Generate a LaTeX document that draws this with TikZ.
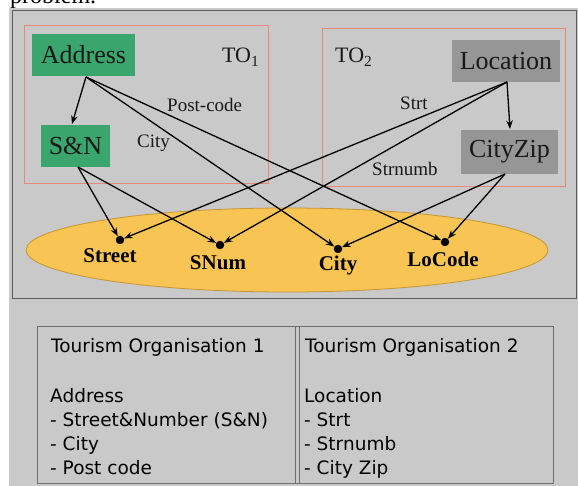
\documentclass[tikz,border=0pt]{standalone}
\usepackage{fontspec}
\setmainfont{Liberation Serif}
\newfontfamily\tablefont{DejaVu Sans}
\usetikzlibrary{arrows.meta,shapes.geometric}

\definecolor{pagegray}{RGB}{201,201,201}
\definecolor{panelline}{RGB}{90,90,90}
\definecolor{toline}{RGB}{229,138,120}
\definecolor{greenbox}{RGB}{58,165,108}
\definecolor{graybox}{RGB}{150,150,150}
\definecolor{ellfill}{RGB}{248,196,84}
\definecolor{ellline}{RGB}{200,150,50}
\definecolor{tableline}{RGB}{110,110,110}
\definecolor{ink}{RGB}{25,25,25}

\tikzset{
  conceptbox/.style={draw=none, inner sep=0pt, text=ink,
    font=\fontsize{26}{30}\selectfont},
  tobox/.style={draw=toline, line width=0.9pt},
  edgelabel/.style={anchor=base west, inner sep=0pt, text=ink,
    font=\fontsize{19}{22}\selectfont},
  tolabel/.style={anchor=base west, inner sep=0pt, text=ink,
    font=\fontsize{22}{26}\selectfont},
  attrdot/.style={circle, fill=black, inner sep=0pt, minimum size=8.5pt},
  attrlabel/.style={anchor=base, inner sep=0pt, text=black,
    font=\fontsize{21}{24}\selectfont\bfseries},
  link/.style={draw=black, line width=1.3pt,
    -{Stealth[length=8.5pt,width=6.5pt]}},
  tabletext/.style={anchor=base west, inner sep=0pt, align=left,
    text=black, font=\tablefont\fontsize{18.5}{24}\selectfont},
}

\begin{document}
\begin{tikzpicture}[x=1pt,y=-1pt]
\useasboundingbox (0,0) rectangle (578,486);

% page behind the figure
\fill[white] (0,0) rectangle (578,486);
\node[anchor=base west, inner sep=0pt, font=\fontsize{24}{28}\selectfont]
  (caption) at (10,4) {problem.};
\fill[pagegray] (9,8) rectangle (578,486);

% upper panel
\draw[panelline, line width=1pt] (12,10.5) rectangle (576,298);

% the two tourism organisations
\draw[tobox] (24,25) rectangle (268,183);
\draw[tobox] (322,28) rectangle (565,186);
\node[tolabel] (to1) at (222,63) {TO\textsubscript{1}};
\node[tolabel] (to2) at (335,63) {TO\textsubscript{2}};

% concepts
\node[conceptbox, fill=greenbox, minimum width=103pt, minimum height=42pt]
  (addr) at (83.5,55) {Address};
\node[conceptbox, fill=greenbox, minimum width=69pt, minimum height=42pt]
  (sn) at (75.5,146) {S\&N};
\node[conceptbox, fill=graybox, minimum width=108pt, minimum height=42pt]
  (loc) at (506,61) {Location};
\node[conceptbox, fill=graybox, minimum width=97pt, minimum height=44pt]
  (cz) at (509.5,152) {CityZip};

% shared attributes
\node[ellipse, draw=ellline, line width=0.8pt, fill=ellfill,
  minimum width=522pt, minimum height=84pt] (attrs) at (287,250) {};
\node[attrdot] (dStreet) at (120,240) {};
\node[attrdot] (dSNum)   at (220,245) {};
\node[attrdot] (dCity)   at (338,249) {};
\node[attrdot] (dLoCode) at (445,242) {};
\node[attrlabel] (lStreet) at (110,263) {Street};
\node[attrlabel] (lSNum)   at (218,270) {SNum};
\node[attrlabel] (lCity)   at (338,271) {City};
\node[attrlabel] (lLoCode) at (443,267) {LoCode};

% connector origins on the concept boxes
\coordinate (addrOut) at (86,77);
\coordinate (snOut)   at (78,167);
\coordinate (locOut)  at (507,82);
\coordinate (czOut)   at (505,174);
\coordinate (snIn)    at (72,124);
\coordinate (czIn)    at (510,129);

% mappings
\draw[link] (addrOut) -- (snIn);
\draw[link] (addrOut) -- (dCity);
\draw[link] (addrOut) -- (dLoCode);
\draw[link] (snOut) -- (dStreet);
\draw[link] (snOut) -- (dSNum);
\draw[link] (locOut) -- (czIn);
\draw[link] (locOut) -- (dStreet);
\draw[link] (locOut) -- (dSNum);
\draw[link] (czOut) -- (dCity);
\draw[link] (czOut) -- (dLoCode);

\node[edgelabel] (lPost)  at (167,112) {Post-code};
\node[edgelabel] (lCityE) at (137,148) {City};
\node[edgelabel] (lStrt)  at (400,110) {Strt};
\node[edgelabel] (lStrn)  at (372,176) {Strnumb};

% legend table
\draw[tableline, line width=1pt] (37,326) rectangle (553,483);
\draw[tableline, line width=1pt] (295,326) -- (295,483);
\draw[tableline, line width=1pt] (299,326) -- (299,483);
\node[tabletext] (t1head) at (51,352) {Tourism Organisation 1};
\node[tabletext, anchor=north west] (t1body) at (50,388)
  {Address\\- Street\&Number (S\&N)\\- City\\- Post code};
\node[tabletext] (t2head) at (305,352) {Tourism Organisation 2};
\node[tabletext, anchor=north west] (t2body) at (304,388)
  {Location\\- Strt\\- Strnumb\\- City Zip};
\end{tikzpicture}
\end{document}
